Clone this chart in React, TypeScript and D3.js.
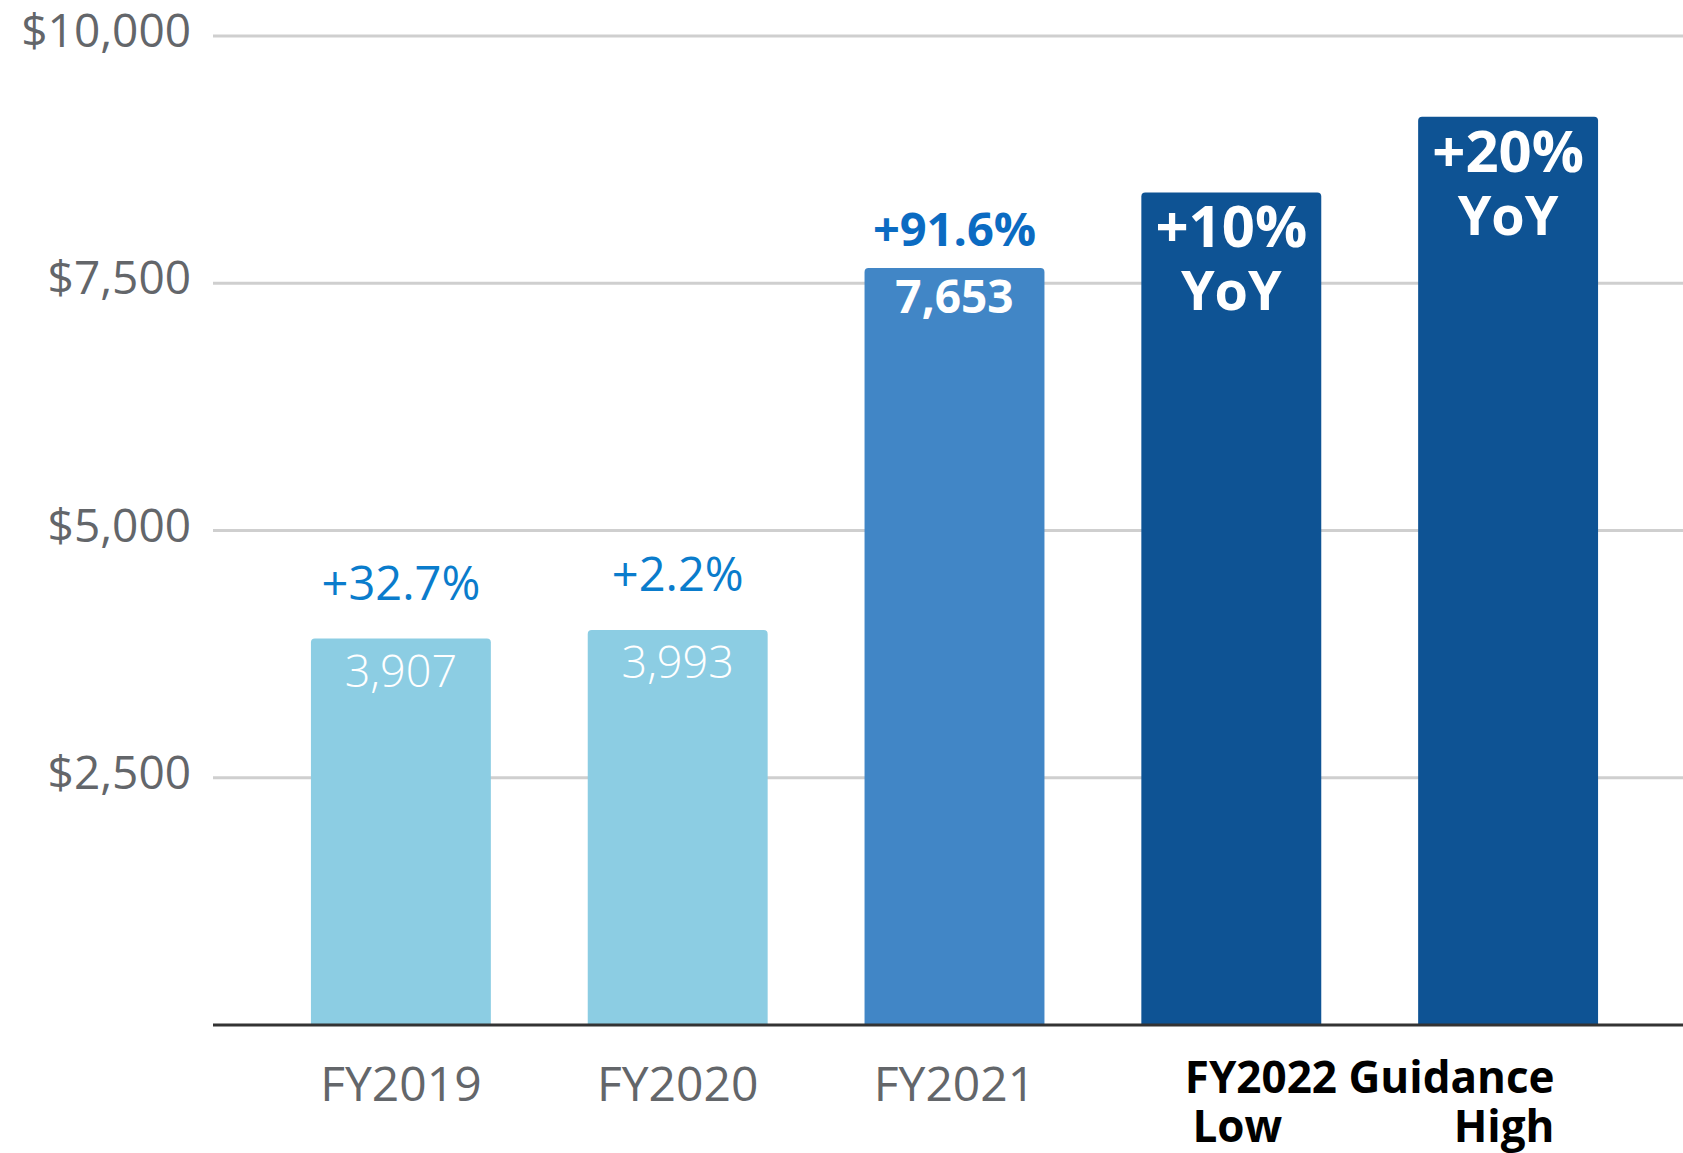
import React from "react";
import * as d3 from "d3";

const categories = ["FY2019", "FY2020", "FY2021", "FY2022 Low", "FY2022 High"];
const values = [3907, 3993, 7653, 8418, 9184];
const valueLabels = ["3,907", "3,993", "7,653", "", ""];
const growthLabels = ["+32.7%", "+2.2%", "+91.6%", "+10%", "+20%"];
const axisLabels = ["FY2019", "FY2020", "FY2021", "", ""];
const yTicks = [2500, 5000, 7500, 10000];

const W = 1683;
const H = 1153;
const barColors = ["#8ccde3", "#8ccde3", "#4186c6", "#0e5394", "#0e5394"];

export default function App() {
  const y = d3.scaleLinear().domain([0, 10000]).range([1025, 36]);
  const x = d3
    .scaleBand<string>()
    .domain(categories)
    .range([262.5, 1646.5])
    .paddingInner(0.35)
    .paddingOuter(0.175);
  const bw = x.bandwidth();
  const fmt = d3.format("$,");
  const r = 4;
  const barPath = (x0: number, y0: number, w: number, y1: number) =>
    `M${x0},${y1}V${y0 + r}Q${x0},${y0} ${x0 + r},${y0}H${x0 + w - r}Q${x0 + w},${y0} ${x0 + w},${y0 + r}V${y1}Z`;

  return (
    <svg
      width={W}
      height={H}
      style={{ position: "absolute", left: 0, top: 0, background: "#fff" }}
    >
      {yTicks.map((t) => (
        <g key={t}>
          <line x1={213} x2={W} y1={y(t)} y2={y(t)} stroke="#cfcfcf" strokeWidth={3} />
          <text
            x={191}
            y={y(t) + 11}
            textAnchor="end"
            fontFamily="'Open Sans', sans-serif"
            fontSize={46}
            fill="#63666a"
          >
            {fmt(t)}
          </text>
        </g>
      ))}
      {categories.map((c, i) => {
        const x0 = x(c)!;
        const top = y(values[i]);
        return (
          <path key={c} d={barPath(x0, top, bw, y(0))} fill={barColors[i]} />
        );
      })}
      <line x1={213} x2={W} y1={y(0)} y2={y(0)} stroke="#333" strokeWidth={3} />
      {categories.map((c, i) => {
        const cx = x(c)! + bw / 2;
        const top = y(values[i]);
        if (i < 3) {
          const bold = i === 2;
          return (
            <g key={c}>
              <text
                x={cx}
                y={top - (bold ? 22 : 39)}
                textAnchor="middle"
                fontFamily="'Open Sans', sans-serif"
                fontSize={bold ? 47 : 47}
                fontWeight={bold ? 700 : 400}
                fill={bold ? "#0b6bc2" : "#0a7ccc"}
              >
                {growthLabels[i]}
              </text>
              <text
                x={cx}
                y={top + (bold ? 45 : 48)}
                textAnchor="middle"
                fontFamily="'Open Sans', sans-serif"
                fontSize={bold ? 46 : 45}
                fontWeight={bold ? 700 : 300}
                fill="#fff"
              >
                {valueLabels[i]}
              </text>
              <text
                x={cx}
                y={1101}
                textAnchor="middle"
                fontFamily="'Open Sans', sans-serif"
                fontSize={48}
                fill="#63666a"
              >
                {axisLabels[i]}
              </text>
            </g>
          );
        }
        return (
          <g key={c}>
            <text
              x={cx}
              y={top + 55}
              textAnchor="middle"
              fontFamily="'Open Sans', sans-serif"
              fontSize={58}
              fontWeight={700}
              fill="#fff"
            >
              {growthLabels[i]}
            </text>
            <text
              x={cx}
              y={top + 118}
              textAnchor="middle"
              fontFamily="'Open Sans', sans-serif"
              fontSize={54}
              fontWeight={700}
              fill="#fff"
            >
              YoY
            </text>
          </g>
        );
      })}
      <text
        x={(x("FY2022 Low")! + x("FY2022 High")! + bw) / 2}
        y={1093}
        textAnchor="middle"
        fontFamily="'Open Sans', sans-serif"
        fontSize={44}
        fontWeight={700}
        fill="#000"
      >
        FY2022 Guidance
      </text>
      <text
        x={x("FY2022 Low")! + bw / 2 + 6}
        y={1142}
        textAnchor="middle"
        fontFamily="'Open Sans', sans-serif"
        fontSize={44}
        fontWeight={700}
        fill="#000"
      >
        Low
      </text>
      <text
        x={x("FY2022 High")! + bw / 2 - 4}
        y={1142}
        textAnchor="middle"
        fontFamily="'Open Sans', sans-serif"
        fontSize={44}
        fontWeight={700}
        fill="#000"
      >
        High
      </text>
    </svg>
  );
}
